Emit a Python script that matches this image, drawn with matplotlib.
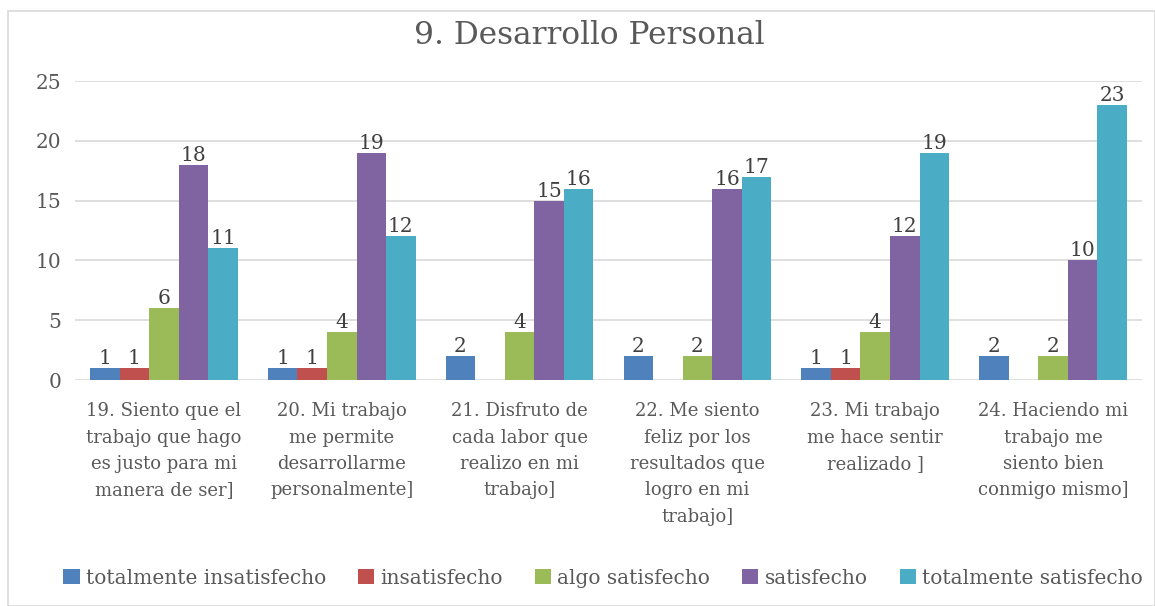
import numpy as np
import matplotlib.pyplot as plt
from matplotlib.patches import Rectangle

categories = [
    "19. Siento que el\ntrabajo que hago\nes justo para mi\nmanera de ser]",
    "20. Mi trabajo\nme permite\ndesarrollarme\npersonalmente]",
    "21. Disfruto de\ncada labor que\nrealizo en mi\ntrabajo]",
    "22. Me siento\nfeliz por los\nresultados que\nlogro en mi\ntrabajo]",
    "23. Mi trabajo\nme hace sentir\nrealizado ]",
    "24. Haciendo mi\ntrabajo me\nsiento bien\nconmigo mismo]",
]
series_names = ["totalmente insatisfecho", "insatisfecho", "algo satisfecho",
                "satisfecho", "totalmente satisfecho"]
totalmente_insatisfecho = [1, 1, 2, 2, 1, 2]
insatisfecho = [1, 1, 0, 0, 1, 0]
algo_satisfecho = [6, 4, 4, 2, 4, 2]
satisfecho = [18, 19, 15, 16, 12, 10]
totalmente_satisfecho = [11, 12, 16, 17, 19, 23]
yticks = [0, 5, 10, 15, 20, 25]

colors = ["#4F81BD", "#C0504D", "#9BBB59", "#8064A2", "#4BACC6"]
text_color = "#595959"
plt.rcParams["font.family"] = ["DejaVu Serif"]

fig = plt.figure(figsize=(11.55, 6.06), dpi=100)
fig.patches.append(Rectangle((8 / 1155, 0), 1 - 8 / 1155, 1 - 11 / 606,
                             transform=fig.transFigure, fill=False,
                             edgecolor="#D9D9D9", linewidth=1.2))
ax = fig.add_axes([75 / 1155, 1 - 380 / 606, (1142 - 75) / 1155, (380 - 81) / 606])

all_series = [totalmente_insatisfecho, insatisfecho, algo_satisfecho,
              satisfecho, totalmente_satisfecho]
x = np.arange(len(categories))
w = 0.166
for i, (vals, name, c) in enumerate(zip(all_series, series_names, colors)):
    bars = ax.bar(x + (i - 2) * w, vals, w, color=c, label=name, zorder=3)
    labels = [str(v) if v else "" for v in vals]
    ax.bar_label(bars, labels=labels, padding=0, fontsize=14.5, color="#404040")

ax.set_xlim(-0.5, len(categories) - 0.5)
ax.set_ylim(0, 25)
ax.set_yticks(yticks)
ax.yaxis.grid(True, color="#D9D9D9", linewidth=1.2, zorder=0)
for s in ax.spines.values():
    s.set_visible(False)
ax.tick_params(length=0, colors=text_color)
ax.tick_params(axis="y", labelsize=14.5, pad=10)
ax.set_xticks(x)
ax.set_xticklabels(categories, fontsize=13, linespacing=1.6)
ax.tick_params(axis="x", pad=16)

fig.text(589 / 1155, 1 - 35 / 606, "9. Desarrollo Personal", fontsize=22.5,
         color=text_color, ha="center", va="center")

ax.legend(loc="center", bbox_to_anchor=(603 / 1155, (606 - 578) / 606), bbox_transform=fig.transFigure,
          ncol=5, frameon=False, fontsize=14.5, labelcolor=text_color,
          handlelength=0.8, handleheight=0.8, handletextpad=0.3, columnspacing=1.6)

fig.savefig("out.png")
